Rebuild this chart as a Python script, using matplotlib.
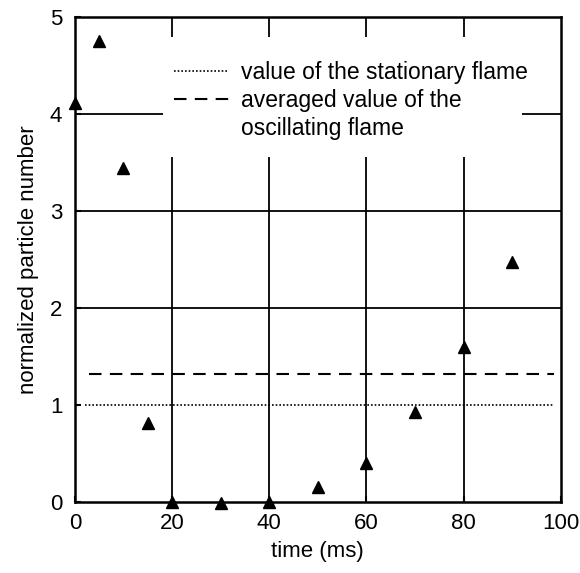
import matplotlib
matplotlib.use("Agg")
import matplotlib.pyplot as plt
from matplotlib.patches import Rectangle
from matplotlib.lines import Line2D

plt.rcParams['font.family'] = ['Liberation Sans', 'DejaVu Sans']

time_ms = [0, 5, 10, 15, 20, 30, 40, 50, 60, 70, 80, 90]
particle_number = [4.12, 4.75, 3.44, 0.81, 0.0, -0.01, 0.0, 0.15, 0.40, 0.93, 1.60, 2.48]
stationary_value = 1.0
averaged_value = 1.32
x_ticks = [0, 20, 40, 60, 80, 100]
y_ticks = [0, 1, 2, 3, 4, 5]

fig = plt.figure(figsize=(5.8, 5.73), dpi=100)
ax = fig.add_axes([0.129, 0.124, 0.838, 0.846])
ax.set_xlim(0, 100)
ax.set_ylim(0, 5)

# grid
for xv in x_ticks[1:-1]:
    ax.axvline(xv, color='black', lw=1.3, zorder=1)
for yv in y_ticks[2:-1]:
    ax.axhline(yv, color='black', lw=1.3, zorder=1)

# reference lines
l1, = ax.plot([2, 98.5], [stationary_value, stationary_value], color='black', lw=1.2,
              linestyle=(0, (1, 1.2)), zorder=2)
l2, = ax.plot([3, 98.5], [averaged_value, averaged_value], color='black', lw=1.5,
              linestyle=(0, (6, 4)), zorder=2)

# white box behind legend
ax.add_patch(Rectangle((0.181, 0.711), 0.739, 0.248, transform=ax.transAxes,
                       facecolor='white', edgecolor='none', zorder=3))

ax.plot(time_ms, particle_number, linestyle='none', marker='^', color='black',
        markersize=8, zorder=5, clip_on=False)

blank = Line2D([], [], linestyle='none')
leg = ax.legend([l1, l2, blank],
                ['value of the stationary flame', 'averaged value of the', 'oscillating flame'],
                loc='upper left', bbox_to_anchor=(0.205, 0.91), frameon=False,
                fontsize=16.5, handlelength=2.4, handletextpad=0.5,
                labelspacing=0.23, borderpad=0, borderaxespad=0)
leg.set_zorder(6)

for s in ax.spines.values():
    s.set_linewidth(1.8)
    s.set_zorder(4)

ax.set_xticks(x_ticks)
ax.set_yticks(y_ticks)
ax.tick_params(direction='in', length=4, width=1.5, labelsize=16, pad=8)
ax.tick_params(axis='y', pad=9)
ax.set_xlabel('time (ms)', fontsize=16, labelpad=5)
ax.set_ylabel('normalized particle number', fontsize=16, labelpad=8)

fig.savefig('out.png', dpi=100)
